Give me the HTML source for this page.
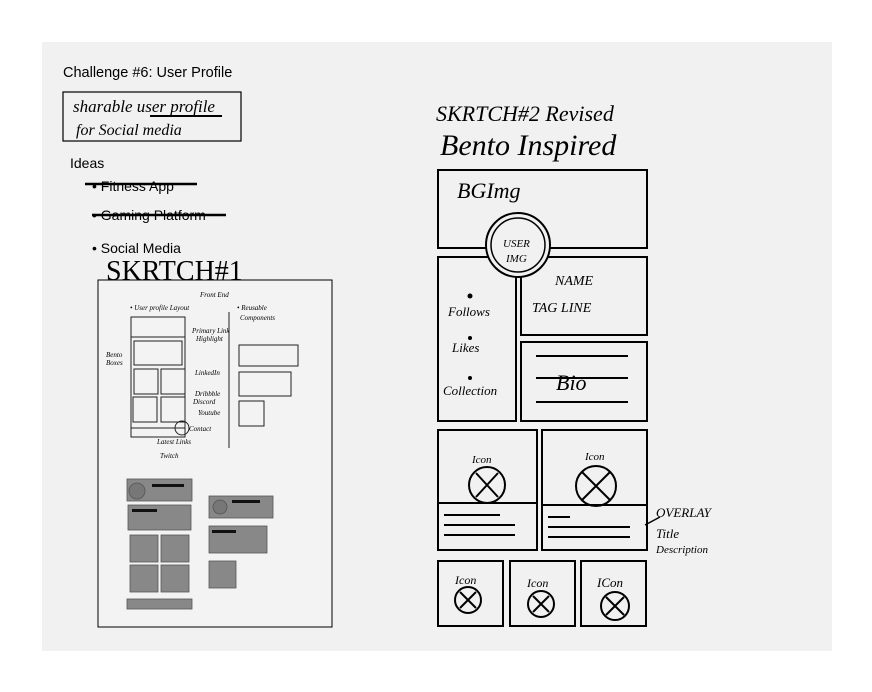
<!DOCTYPE html>
<html><head><meta charset="utf-8"><style>
body{margin:0;background:#fff;width:872px;height:692px;overflow:hidden}
svg{display:block}
.h{font-family:"Liberation Sans",sans-serif;fill:#000}
.s{font-family:"Liberation Serif",serif;font-style:italic;fill:#000}
</style></head><body>
<svg width="872" height="692" viewBox="0 0 872 692">
<rect x="42" y="42" width="790" height="609" fill="#f1f1f1"/>
<text class="h" x="63" y="77" font-size="14.5">Challenge #6: User Profile</text>
<rect x="63" y="92" width="178" height="49" fill="none" stroke="#000" stroke-width="1.2"/>
<text class="s" x="73" y="112" font-size="17">sharable user profile</text>
<line x1="150" y1="116" x2="222" y2="116" stroke="#000" stroke-width="2"/>
<text class="s" x="76" y="135" font-size="16">for Social media</text>
<text class="h" x="70" y="168" font-size="14">Ideas</text>
<text class="h" x="92" y="191" font-size="14">• Fitness App</text>
<line x1="85" y1="184" x2="197" y2="184" stroke="#000" stroke-width="2.5"/>
<text class="h" x="92" y="220" font-size="14">• Gaming Platform</text>
<line x1="92" y1="215" x2="226" y2="215" stroke="#000" stroke-width="2.5"/>
<text class="h" x="92" y="253" font-size="14">• Social Media</text>
<text class="s" x="106" y="280" font-size="28" style="font-style:normal" font-family="Liberation Sans">SKRTCH#1</text>
<rect x="98" y="280" width="234" height="347" fill="#f3f3f3" stroke="#000" stroke-width="1"/>
<g fill="none" stroke="#222" stroke-width="1">
<rect x="131" y="317" width="54" height="120"/>
<line x1="131" y1="337" x2="185" y2="337"/>
<rect x="134" y="341" width="48" height="24"/>
<rect x="134" y="369" width="24" height="25"/><rect x="161" y="369" width="24" height="25"/>
<rect x="133" y="397" width="24" height="25"/><rect x="161" y="397" width="24" height="25"/>
<line x1="131" y1="428" x2="185" y2="428"/>
<line x1="229" y1="312" x2="229" y2="448"/>
<rect x="239" y="345" width="59" height="21"/>
<rect x="239" y="372" width="52" height="24"/>
<rect x="239" y="401" width="25" height="25"/>
<circle cx="182" cy="428" r="7"/>
</g>
<g font-family="Liberation Serif" font-style="italic" font-size="7" fill="#000">
<text x="200" y="297">Front End</text><text x="130" y="310">• User profile Layout</text>
<text x="237" y="310">• Reusable</text><text x="240" y="320">Components</text>
<text x="192" y="333">Primary Link</text><text x="196" y="341">Highlight</text>
<text x="106" y="357">Bento</text><text x="106" y="365">Boxes</text>
<text x="195" y="375">LinkedIn</text><text x="195" y="396">Dribbble</text><text x="193" y="404">Discord</text>
<text x="198" y="415">Youtube</text><text x="189" y="431">Contact</text>
<text x="157" y="444">Latest Links</text><text x="160" y="458">Twitch</text>
</g>
<g fill="#888" stroke="#555" stroke-width="0.8">
<rect x="127" y="479" width="65" height="22"/><circle cx="137" cy="491" r="8" fill="#777"/>
<rect x="128" y="505" width="63" height="25"/>
<rect x="130" y="535" width="28" height="27"/><rect x="161" y="535" width="28" height="27"/>
<rect x="130" y="565" width="28" height="27"/><rect x="161" y="565" width="28" height="27"/>
<rect x="127" y="599" width="65" height="10"/>
<rect x="209" y="496" width="64" height="22"/><circle cx="220" cy="507" r="7" fill="#777"/>
<rect x="209" y="526" width="58" height="27"/>
<rect x="209" y="561" width="27" height="27"/>
</g>
<g fill="#111"><rect x="152" y="484" width="32" height="3"/><rect x="132" y="509" width="25" height="3"/><rect x="232" y="500" width="28" height="3"/><rect x="212" y="530" width="24" height="3"/></g>

<text x="436" y="121" font-family="Liberation Serif" font-style="italic" font-size="22">SKRTCH#2 Revised</text>
<text x="440" y="155" font-family="Liberation Serif" font-style="italic" font-size="30">Bento Inspired</text>
<g fill="none" stroke="#000" stroke-width="2">
<rect x="438" y="170" width="209" height="78"/>
<rect x="438" y="257" width="78" height="164"/>
<rect x="521" y="257" width="126" height="78"/>
<rect x="521" y="342" width="126" height="79"/>
<rect x="438" y="430" width="99" height="120"/><line x1="438" y1="503" x2="537" y2="503"/>
<rect x="542" y="430" width="105" height="120"/><line x1="542" y1="505" x2="647" y2="505"/>
<rect x="438" y="561" width="65" height="65"/><rect x="510" y="561" width="65" height="65"/><rect x="581" y="561" width="65" height="65"/>
<circle cx="487" cy="485" r="18"/><circle cx="596" cy="486" r="20"/>
<circle cx="468" cy="600" r="13"/><circle cx="541" cy="604" r="13"/><circle cx="615" cy="606" r="14"/>
<path d="M476 473 L498 497 M498 473 L476 497 M582 472 L610 500 M610 472 L582 500 M460 592 L476 608 M476 592 L460 608 M533 596 L549 612 M549 596 L533 612 M606 597 L624 615 M624 597 L606 615"/>
<line x1="444" y1="515" x2="500" y2="515"/><line x1="444" y1="525" x2="515" y2="525"/><line x1="444" y1="535" x2="515" y2="535"/>
<line x1="548" y1="517" x2="570" y2="517"/><line x1="548" y1="527" x2="630" y2="527"/><line x1="548" y1="537" x2="630" y2="537"/>
<line x1="536" y1="356" x2="628" y2="356"/><line x1="536" y1="378" x2="628" y2="378"/><line x1="536" y1="402" x2="628" y2="402"/>
<line x1="645" y1="525" x2="660" y2="517" stroke-width="1.5"/>
</g>
<circle cx="518" cy="245" r="32" fill="#f1f1f1" stroke="#000" stroke-width="2"/>
<circle cx="518" cy="245" r="27" fill="none" stroke="#000" stroke-width="1.5"/>
<g font-family="Liberation Serif" font-style="italic" fill="#000">
<text x="457" y="198" font-size="22">BGImg</text>
<text x="503" y="247" font-size="11">USER</text><text x="506" y="262" font-size="11">IMG</text>
<text x="555" y="285" font-size="14">NAME</text><text x="532" y="312" font-size="14">TAG LINE</text>
<text x="448" y="316" font-size="13">Follows</text><text x="452" y="352" font-size="13">Likes</text><text x="443" y="395" font-size="13">Collection</text>
<text x="556" y="390" font-size="22">Bio</text>
<text x="472" y="463" font-size="11">Icon</text><text x="585" y="460" font-size="11">Icon</text>
<text x="455" y="584" font-size="12">Icon</text><text x="527" y="587" font-size="12">Icon</text><text x="597" y="587" font-size="13">ICon</text>
<text x="656" y="517" font-size="13">OVERLAY</text><text x="656" y="538" font-size="13">Title</text><text x="656" y="553" font-size="11">Description</text>
</g>
<g fill="#000"><circle cx="470" cy="296" r="2.5"/><circle cx="470" cy="338" r="2"/><circle cx="470" cy="378" r="2"/></g>
</svg>
</body></html>
